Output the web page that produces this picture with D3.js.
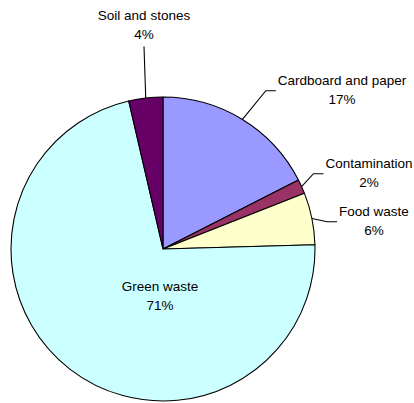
<!DOCTYPE html>
<html>
<head>
<meta charset="utf-8">
<script src="https://cdn.jsdelivr.net/npm/d3@7"></script>
<style>
  body { margin: 0; background: #fff; }
  svg text { font-family: "Liberation Sans", Arial, sans-serif; font-size: 13.5px; fill: #000; }
</style>
</head>
<body>
<div id="chart"></div>
<script>
// slices, clockwise from 12 o'clock
let categories = ["Cardboard and paper", "Contamination", "Food waste", "Green waste", "Soil and stones"];
let shares = [17.4, 1.5, 5.5, 71.4, 3.6];
let pctLabels = ["17%", "2%", "6%", "71%", "4%"];
let colors = ["#9999FF", "#993366", "#FFFFCC", "#CCFFFF", "#660066"];

let width = 414, height = 403;
let cx = 163, cy = 249, radius = 152;

// where each label sits (centre of first line) and how its leader runs
let labelLayout = {
  "Cardboard and paper": {x: 342, y: 80, leader: "side"},
  "Contamination": {x: 369, y: 163, leader: "side"},
  "Food waste": {x: 374, y: 211, leader: "side"},
  "Green waste": {x: 160, y: 286, leader: "none"},
  "Soil and stones": {x: 144, y: 15, leader: "up"}
};
let lineGap = 19.5;

let data = categories.map((c, i) => ({name: c, value: shares[i], pct: pctLabels[i], color: colors[i]}));

let svg = d3.select("#chart").append("svg")
    .attr("width", width)
    .attr("height", height);

let g = svg.append("g").attr("transform", "translate(" + cx + "," + cy + ")");

let pie = d3.pie().sort(null).value(d => d.value);
let arc = d3.arc().innerRadius(0).outerRadius(radius);
let edge = d3.arc().innerRadius(radius).outerRadius(radius);

let arcs = pie(data);

g.selectAll("path.slice")
  .data(arcs)
  .enter().append("path")
    .attr("class", "slice")
    .attr("d", arc)
    .attr("fill", d => d.data.color)
    .attr("stroke", "#000")
    .attr("stroke-width", 1.1)
    .attr("stroke-linejoin", "round");

// labels
let labels = svg.append("g");
arcs.forEach(d => {
  let lay = labelLayout[d.data.name];
  let t = labels.append("text")
    .attr("x", lay.x)
    .attr("y", lay.y)
    .attr("text-anchor", "middle");
  t.append("tspan").attr("x", lay.x).attr("dy", "0.35em").text(d.data.name);
  t.append("tspan").attr("x", lay.x).attr("dy", lineGap).text(d.data.pct);

  let p = edge.centroid(d);
  let sx = cx + p[0], sy = cy + p[1];
  if (lay.leader === "side") {
    let w = t.select("tspan").node().getComputedTextLength();
    let ex = lay.x - w / 2 - 2, ey = lay.y + lineGap / 2 + 1;
    labels.append("polyline")
      .attr("points", [[sx, sy], [ex - 10, ey], [ex, ey]].map(q => q.join(",")).join(" "))
      .attr("fill", "none")
      .attr("stroke", "#000")
      .attr("stroke-width", 1.1);
  } else if (lay.leader === "up") {
    labels.append("line")
      .attr("x1", sx).attr("y1", sy)
      .attr("x2", lay.x).attr("y2", lay.y + lineGap + 12)
      .attr("stroke", "#000")
      .attr("stroke-width", 1.1);
  }
});
</script>
</body>
</html>
